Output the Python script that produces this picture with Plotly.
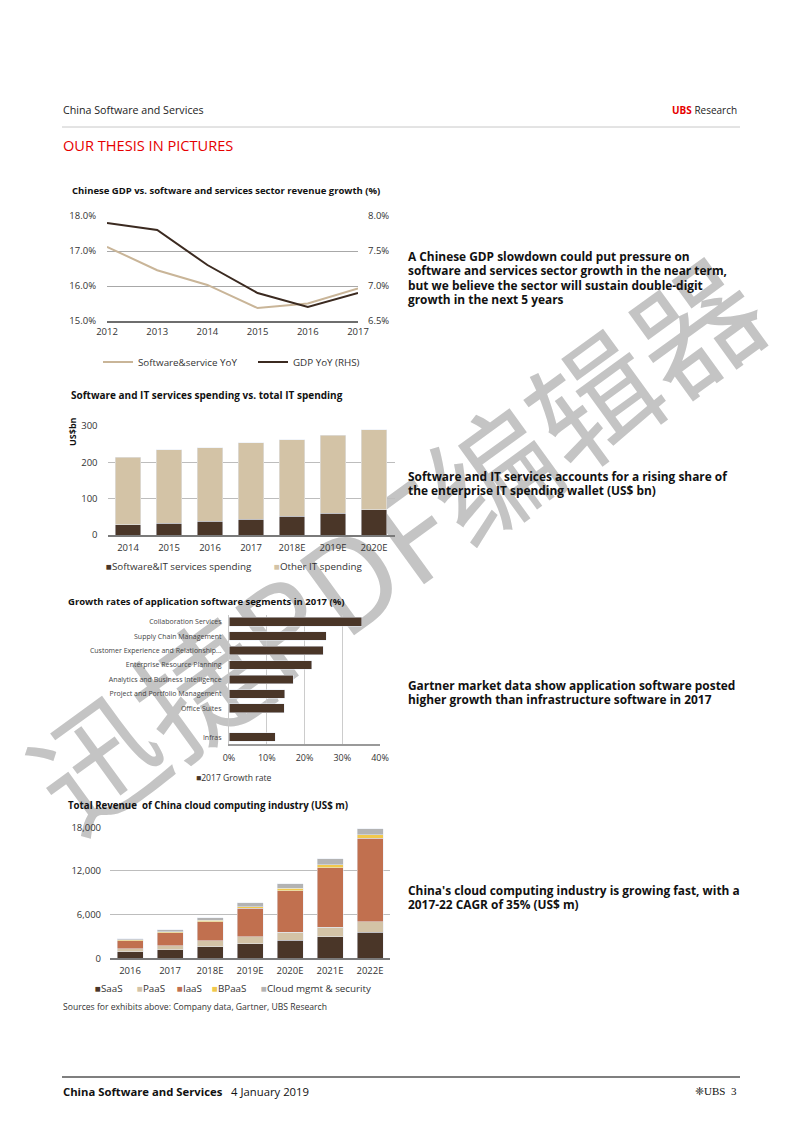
import plotly.graph_objects as go

# ---------------- data ----------------
years1 = [2012, 2013, 2014, 2015, 2016, 2017]
sw_yoy = [17.12, 16.45, 16.03, 15.37, 15.50, 15.93]
gdp_yoy = [7.9, 7.8, 7.3, 6.9, 6.7, 6.9]

years2 = ["2014", "2015", "2016", "2017", "2018E", "2019E", "2020E"]
sw_it = [28, 32, 38, 44, 51, 60, 69]
other_it = [186, 202, 202, 210, 211, 215, 221]

segments = ["Collaboration Services", "Supply Chain Management",
            "Customer Experience and Relationship...", "Enterprise Resource Planning",
            "Analytics and Business Intelligence", "Project and Portfolio Management",
            "Office Suites", " ", "Infras"]
growth = [35.1, 25.8, 25.0, 21.9, 17.0, 14.8, 14.6, None, 12.2]

years4 = ["2016", "2017", "2018E", "2019E", "2020E", "2021E", "2022E"]
saas = [900, 1190, 1600, 2010, 2470, 2980, 3570]
paas = [380, 550, 820, 920, 1100, 1280, 1470]
iaas = [1150, 1790, 2610, 3940, 5720, 8200, 11450]
bpaas = [100, 140, 180, 230, 320, 370, 460]
mgmt = [180, 230, 370, 500, 600, 820, 820]

# ---------------- style ----------------
W, H = 802, 1133
def px(x): return x / W
def py(y): return 1 - y / H

FONT = "Open Sans"
DARK = "#4a3628"
TAN = "#d3c3a6"
IAAS_C = "#c1704f"
BPAAS_C = "#f1c84c"
GREY_C = "#b3b3b3"
GRID = "#bdbdbd"
TXT = "#333333"

fig = go.Figure()

# Chart 1: lines
fig.add_trace(go.Scatter(x=years1, y=sw_yoy, mode="lines", name="Software&service YoY",
                         line=dict(color="#c9b598", width=2), xaxis="x", yaxis="y", legend="legend"))
fig.add_trace(go.Scatter(x=years1, y=gdp_yoy, mode="lines", name="GDP YoY (RHS)",
                         line=dict(color="#3b2a20", width=2), xaxis="x", yaxis="y2", legend="legend"))

# Chart 2: stacked bars
fig.add_trace(go.Bar(x=years2, y=sw_it, marker_color=DARK, width=0.63, showlegend=False,
                     xaxis="x2", yaxis="y3", name="Software&IT services spending"))
fig.add_trace(go.Bar(x=years2, y=other_it, marker_color=TAN, width=0.63, showlegend=False,
                     xaxis="x2", yaxis="y3", name="Other IT spending"))

# Chart 3: horizontal bars
fig.add_trace(go.Bar(y=segments, x=growth, orientation="h", marker_color=DARK, width=0.6,
                     showlegend=False, xaxis="x3", yaxis="y4", name="2017 Growth rate"))

# Chart 4: stacked cloud
for vals, col, nm in [(saas, DARK, "SaaS"), (paas, TAN, "PaaS"), (iaas, IAAS_C, "IaaS"),
                      (bpaas, BPAAS_C, "BPaaS"), (mgmt, GREY_C, "Cloud mgmt & security")]:
    fig.add_trace(go.Bar(x=years4, y=vals, marker_color=col, width=0.65, showlegend=False,
                         xaxis="x4", yaxis="y5", name=nm))

tickfont = dict(family=FONT, size=9.5, color=TXT)

fig.update_layout(
    width=W, height=H, margin=dict(l=0, r=0, t=0, b=0, autoexpand=False),
    paper_bgcolor="white", plot_bgcolor="rgba(0,0,0,0)",
    barmode="stack", font=dict(family=FONT, color=TXT),
    # chart 1
    xaxis=dict(domain=[px(107), px(358)], anchor="y", range=[2012, 2017], automargin=False,
               tickvals=years1, ticktext=[str(v) for v in years1], tickfont=tickfont,
               showgrid=False, zeroline=False, showline=True, linecolor="#6e6e6e", linewidth=1.5,
               ticks="", ticklabelstandoff=1),
    yaxis=dict(domain=[py(321), py(216)], anchor="x", range=[15, 18], automargin=False,
               tickvals=[15, 16, 17, 18], ticktext=["15.0%", "16.0%", "17.0%", "18.0%"],
               tickfont=tickfont, showgrid=True, gridcolor="#a8a8a8", gridwidth=1,
               zeroline=False, ticks="", ticklabelstandoff=10),
    yaxis2=dict(domain=[py(321), py(216)], anchor="x", overlaying="y", side="right",
                range=[6.5, 8.0], tickvals=[6.5, 7.0, 7.5, 8.0], automargin=False,
                ticktext=["6.5%", "7.0%", "7.5%", "8.0%"], tickfont=tickfont,
                showgrid=False, zeroline=False, ticks="", ticklabelstandoff=9),
    # chart 2
    xaxis2=dict(domain=[px(107.5), px(394.5)], anchor="y3", tickfont=tickfont, automargin=False,
                showgrid=False, showline=True, linecolor="#7a7a7a", linewidth=1.5,
                ticks="", ticklabelstandoff=3),
    yaxis3=dict(domain=[py(535), py(426)], anchor="x2", range=[0, 300], automargin=False,
                tickvals=[0, 100, 200, 300], tickfont=tickfont, showgrid=True,
                gridcolor=GRID, zeroline=False, ticks="", ticklabelstandoff=9),
    # chart 3
    xaxis3=dict(domain=[px(229), px(380)], anchor="y4", range=[0, 40], dtick=10, automargin=False,
                ticksuffix="%", tickfont=dict(family=FONT, size=9, color=TXT),
                showgrid=True, gridcolor="#cccccc", zeroline=False,
                showline=True, linecolor="#9a9a9a", linewidth=2, ticks="", ticklabelstandoff=4),
    yaxis4=dict(domain=[py(744.3), py(614.5)], anchor="x3", autorange="reversed", automargin=False,
                tickfont=dict(family=FONT, size=7, color="#444444"), showgrid=False,
                showline=True, linecolor="#c8c8c8", ticks="", ticklabelstandoff=5),
    # chart 4
    xaxis4=dict(domain=[px(110), px(390)], anchor="y5", tickfont=tickfont, automargin=False,
                showgrid=False, showline=True, linecolor="#7a7a7a", linewidth=1.5,
                ticks="", ticklabelstandoff=3),
    yaxis5=dict(domain=[py(958.3), py(827.3)], anchor="x4", range=[0, 18000], automargin=False,
                tickvals=[0, 6000, 12000, 18000], tickformat=",", tickfont=tickfont,
                showgrid=True, gridcolor=GRID, zeroline=False, ticks="", ticklabelstandoff=8),
    legend=dict(orientation="h", x=px(98), y=py(362), xanchor="left", yanchor="middle",
                font=dict(family=FONT, size=9.8, color=TXT), bgcolor="rgba(0,0,0,0)",
                itemwidth=30, entrywidth=110, entrywidthmode="pixels", traceorder="normal"),
)

anns = []
def ann(text, x, y, size, color=TXT, xanchor="left", yanchor="middle", family=FONT, **kw):
    if xanchor == "left":
        x = x - 1.5
    anns.append(dict(text=text, x=px(x), y=py(y), xref="paper", yref="paper",
                     xanchor=xanchor, yanchor=yanchor, showarrow=False, align="left",
                     font=dict(family=family, size=size, color=color), **kw))

def block(lines, x, y0, size, step=14.3):
    for i, ln in enumerate(lines):
        ann("<b>" + ln + "</b>", x, y0 + i * step, size, color="#111")

# header
ann("China Software and Services", 62, 110, 10.7, color="#222")
ann("<b><span style='color:#e60000'>UBS</span></b> Research", 739, 110, 10, color="#222", xanchor="right")
ann("OUR THESIS IN PICTURES", 62, 145, 14.6, color="#e60000")

# chart titles
ann("<b>Chinese GDP vs. software and services sector revenue growth (%)</b>", 71, 190, 9.5, color="#111")
ann("<b>Software and IT services spending vs. total IT spending</b>", 70, 395, 10, color="#111")
ann("<b>Growth rates of application software segments in 2017 (%)</b>", 67, 601, 9.5, color="#111")
ann("<b>Total Revenue  of China cloud computing industry (US$ m)</b>", 67, 805, 9.7, color="#111")

# y-axis title chart 2
ann("<b>US$bn</b>", 72, 432, 9, color="#111", xanchor="center", textangle=-90)

# bar legends (text markers)
def sq(c):
    return f"<span style='color:{c}'>■</span>"
ann(sq(DARK) + "Software&IT services spending", 105, 566, 9.8)
ann(sq(TAN) + "Other IT spending", 273, 566, 9.8)
ann(sq(DARK) + "2017 Growth rate", 195, 778, 8.6)
for lx, col, nm in [(94, DARK, "SaaS"), (136, TAN, "PaaS"), (176, IAAS_C, "IaaS"),
                    (211, BPAAS_C, "BPaaS"), (260, GREY_C, "Cloud mgmt &amp; security")]:
    ann(sq(col) + nm, lx, 988, 9.8)

ann("Sources for exhibits above: Company data, Gartner, UBS Research", 62, 1007, 8.6, color="#333")

# commentary
block(["A Chinese GDP slowdown could put pressure on",
       "software and services sector growth in the near term,",
       "but we believe the sector will sustain double-digit",
       "growth in the next 5 years"], 407, 256, 11.9)
block(["Software and IT services accounts for a rising share of",
       "the enterprise IT spending wallet (US$ bn)"], 407, 476, 11.9)
block(["Gartner market data show application software posted",
       "higher growth than infrastructure software in 2017"], 407, 685, 11.9)
block(["China's cloud computing industry is growing fast, with a",
       "2017-22 CAGR of 35% (US$ m)"], 407, 890, 11.9)

# footer
ann("<b>China Software and Services</b>&nbsp;&nbsp;&nbsp;4 January 2019", 62, 1091, 11.3, color="#111")
ann("❈UBS&nbsp;&nbsp;3", 739, 1091, 11, color="#111", xanchor="right", family="Liberation Serif")

fig.update_layout(annotations=anns)

fig.update_layout(shapes=[
    # watermark drawn beneath the charts
    dict(type="rect", xref="paper", yref="paper", layer="below",
         x0=px(395), x1=px(415), y0=py(565), y1=py(545),
         line=dict(width=0), fillcolor="rgba(0,0,0,0)",
         label=dict(text="迅捷PDF编辑器", textangle=-36, textposition="middle center",
                    font=dict(family="Noto Sans CJK SC", size=126, color="#c4c4c4"))),
    dict(type="line", xref="paper", yref="paper", x0=px(62), x1=px(740), y0=py(127), y1=py(127),
         line=dict(color="#c8c8c8", width=1)),
    dict(type="line", xref="paper", yref="paper", x0=px(62), x1=px(740), y0=py(1077), y1=py(1077),
         line=dict(color="#555555", width=1.5)),
])

fig.write_html("out.html")
